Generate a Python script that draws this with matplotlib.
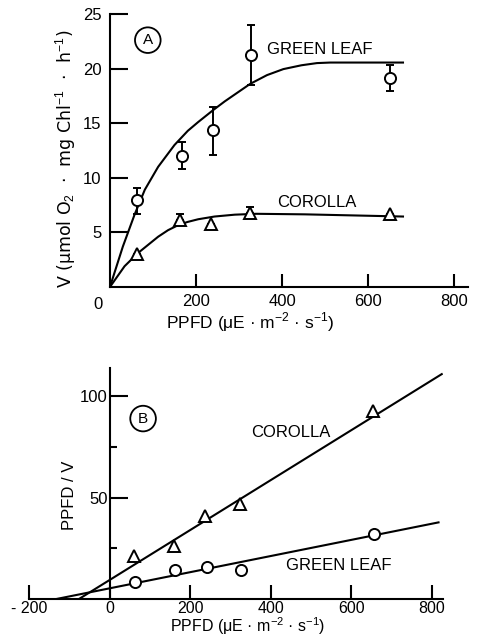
import matplotlib
matplotlib.use("Agg")
import matplotlib.pyplot as plt

plt.rcParams["font.family"] = ["Liberation Sans", "DejaVu Sans"]
plt.rcParams["mathtext.fontset"] = "custom"
plt.rcParams["mathtext.rm"] = "Liberation Sans"

# ==========================================
# DATA
# ==========================================
# Panel A: rate V vs PPFD
leaf_x = [64, 167, 240, 327, 651]
leaf_v = [8.0, 12.0, 14.4, 21.2, 19.1]
leaf_err_lo = [1.3, 1.2, 2.3, 2.7, 1.2]
leaf_err_hi = [1.1, 1.3, 2.1, 2.8, 1.2]

corolla_x = [62, 162, 236, 325, 651]
corolla_v = [3.0, 6.1, 5.8, 6.8, 6.7]
corolla_err_lo = [0, 0, 0, 0, 0]
corolla_err_hi = [0, 0.6, 0, 0.55, 0]

# fitted saturation curves (traced)
leaf_fit_x = [0, 30, 57, 81, 112, 150, 181, 205, 240, 267, 326, 365, 403, 445, 481, 512, 681]
leaf_fit_v = [0, 3.7, 6.6, 8.9, 11.0, 13.0, 14.3, 15.1, 16.2, 17.0, 18.6, 19.4, 19.95, 20.3, 20.5, 20.55, 20.55]
corolla_fit_x = [0, 34, 65, 112, 135, 158, 180, 205, 243, 290, 340, 453, 681]
corolla_fit_v = [0, 1.9, 3.1, 4.6, 5.2, 5.65, 5.95, 6.2, 6.45, 6.62, 6.7, 6.65, 6.45]

# Panel B: PPFD/V vs PPFD (linearised)
b_corolla_x = [61, 159, 237, 324, 653]
b_corolla_y = [21.2, 26.1, 40.7, 47.0, 92.3]
b_leaf_x = [64, 161, 242, 326, 655]
b_leaf_y = [8.4, 14.5, 16.1, 14.5, 32.1]

# regression lines (endpoints traced)
b_corolla_line_x = [-78, 824]
b_corolla_line_y = [0, 110.5]
b_leaf_line_x = [-138, 816]
b_leaf_line_y = [0, 37.8]

FS = 12
LW = 1.5
UNIT = "PPFD (μE · m$^{-2}$ · s$^{-1}$)"

fig = plt.figure(figsize=(4.78, 6.37), dpi=100)

# ==========================================
# PANEL A
# ==========================================
ax = fig.add_axes([0.230, 0.5495, 0.749, 0.4286])
ax.plot(leaf_fit_x, leaf_fit_v, color="black", lw=LW, zorder=2)
ax.plot(corolla_fit_x, corolla_fit_v, color="black", lw=LW, zorder=2)
ax.errorbar(leaf_x, leaf_v, yerr=[leaf_err_lo, leaf_err_hi], fmt="o",
            mfc="white", mec="black", mew=1.4, ms=8, ecolor="black",
            elinewidth=1.4, capsize=3, capthick=1.4, zorder=3)
ax.errorbar(corolla_x, corolla_v, yerr=[corolla_err_lo, corolla_err_hi], fmt="^",
            mfc="white", mec="black", mew=1.4, ms=8.5, ecolor="black",
            elinewidth=1.4, capsize=3, capthick=1.4, zorder=3)

ax.set_xlim(0, 832)
ax.set_ylim(0, 25)
for s in ["top", "right"]:
    ax.spines[s].set_visible(False)
for s in ["left", "bottom"]:
    ax.spines[s].set_linewidth(LW)
ax.set_xticks([200, 400, 600, 800])
ax.set_yticks([5, 10, 15, 20, 25])
ax.tick_params(axis="x", direction="in", length=9.5, width=LW, labelsize=FS, pad=5)
ax.tick_params(axis="y", direction="in", length=13, width=LW, labelsize=FS, pad=6)
ax.text(-0.033, -0.035, "0", transform=ax.transAxes, ha="center", va="top", fontsize=FS)

ax.set_xlabel(UNIT, fontsize=12.5)
ax.xaxis.set_label_coords(0.391, -0.085)
ax.set_ylabel("V (μmol O$_2$  ·  mg Chl$^{-1}$  ·  h$^{-1}$)", fontsize=12.5,
              family=["DejaVu Sans"])
ax.yaxis.set_label_coords(-0.09, 0.469)

ax.text(88, 22.6, "A", ha="center", va="center", fontsize=FS - 1,
        bbox=dict(boxstyle="circle,pad=0.38", fc="white", ec="black", lw=1.3))
ax.text(365, 21.7, "GREEN LEAF", ha="left", va="center", fontsize=FS)
ax.text(388, 7.7, "COROLLA", ha="left", va="center", fontsize=FS)

# ==========================================
# PANEL B
# ==========================================
bx = fig.add_axes([0.0607, 0.0589, 0.866, 0.3634])
bx.plot(b_corolla_line_x, b_corolla_line_y, color="black", lw=LW, zorder=2)
bx.plot(b_leaf_line_x, b_leaf_line_y, color="black", lw=LW, zorder=2)
bx.plot(b_corolla_x, b_corolla_y, "^", mfc="white", mec="black", mew=1.4, ms=8.5, zorder=3)
bx.plot(b_leaf_x, b_leaf_y, "o", mfc="white", mec="black", mew=1.4, ms=8, zorder=3)

bx.set_xlim(-200, 827)
bx.set_ylim(0, 113.5)
for s in ["top", "right"]:
    bx.spines[s].set_visible(False)
for s in ["left", "bottom"]:
    bx.spines[s].set_linewidth(LW)
bx.spines["left"].set_position(("data", 0))
bx.set_xticks([-200, 0, 200, 400, 600, 800])
bx.set_xticklabels(["- 200", "0", "200", "400", "600", "800"])
bx.set_yticks([50, 100])
bx.set_yticks([25, 75], minor=True)
bx.tick_params(axis="x", direction="in", length=10, width=LW, labelsize=11.5, pad=1)
bx.tick_params(axis="y", which="major", direction="in", length=13, width=LW, labelsize=FS, pad=1.5)
bx.tick_params(axis="y", which="minor", direction="in", length=5, width=LW)

bx.set_xlabel(UNIT, fontsize=11.5)
bx.xaxis.set_label_coords(0.528, -0.07)
bx.set_ylabel("PPFD / V", fontsize=FS)
bx.yaxis.set_label_coords(0.116, 0.451)

bx.text(83, 88.7, "B", ha="center", va="center", fontsize=FS - 1,
        bbox=dict(boxstyle="circle,pad=0.38", fc="white", ec="black", lw=1.3))
bx.text(350, 81.8, "COROLLA", ha="left", va="center", fontsize=FS)
bx.text(437, 16.7, "GREEN LEAF", ha="left", va="center", fontsize=FS)

fig.savefig("out.png", dpi=100)
